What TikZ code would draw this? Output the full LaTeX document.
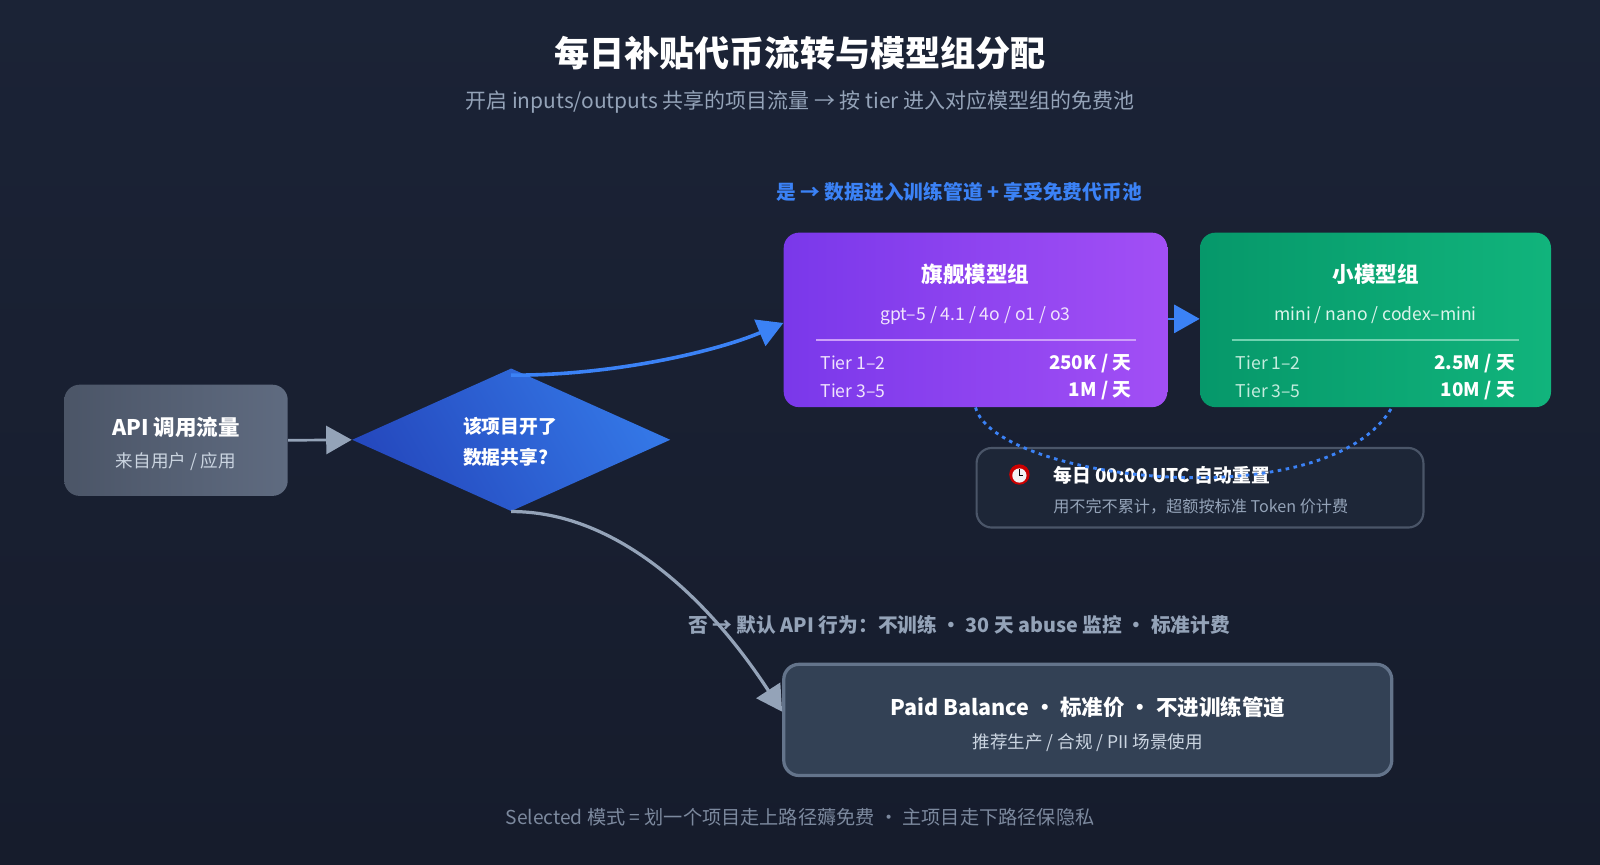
\documentclass[tikz,border=0pt]{standalone}
\usepackage{fontspec}
\setmainfont{Noto Sans CJK SC}
\usetikzlibrary{arrows.meta,shapes.geometric,positioning,calc}
\definecolor{bgtop}{HTML}{1B2336}
\definecolor{bgbot}{HTML}{161C2C}
\definecolor{slate}{HTML}{94A3B8}
\definecolor{mute}{HTML}{CBD5E1}
\definecolor{flow}{HTML}{3B82F6}
\definecolor{apiA}{HTML}{4B5567}
\definecolor{apiB}{HTML}{5F6B80}
\definecolor{decA}{HTML}{2549BE}
\definecolor{decB}{HTML}{3477E6}
\definecolor{purA}{HTML}{7A38EA}
\definecolor{purB}{HTML}{A24FF5}
\definecolor{grnA}{HTML}{06986A}
\definecolor{grnB}{HTML}{11B47C}
\definecolor{resetfill}{HTML}{1D2637}
\definecolor{resetline}{HTML}{4A5568}
\definecolor{paidfill}{HTML}{334155}
\definecolor{paidline}{HTML}{64748B}
\begin{document}
\begin{tikzpicture}[x=0.02cm,y=-0.02cm,
  box/.style={rounded corners=0.3cm,inner sep=0pt,align=center},
  head/.style={font=\bfseries\fontsize{12}{14}\selectfont,text=white},
  sub/.style={font=\fontsize{9.8}{12}\selectfont},
  num/.style={font=\bfseries\fontsize{10.5}{12}\selectfont,text=white,anchor=east},
  bigtip/.style={-{Triangle[length=0.5cm,width=0.55cm]}}]
\shade[top color=bgtop,bottom color=bgbot] (0,0) rectangle (1568,847);
\useasboundingbox (0,0) rectangle (1568,847);
% title
\node[font=\bfseries\fontsize{19.6}{22}\selectfont,text=white] (title) at (784,52) {每日补贴代币流转与模型组分配};
\node[font=\fontsize{11.7}{14}\selectfont,text=slate] (subtitle) at (784,100) {开启 inputs/outputs 共享的项目流量 → 按 tier 进入对应模型组的免费池};
% nodes
\node[box,left color=apiA,right color=apiB,minimum width=4.38cm,minimum height=2.18cm] (api) at (172.5,431.5) {};
\node[head] at (172.5,419) {API 调用流量};
\node[sub,text=mute] at (172.5,452) {来自用户 / 应用};
\node[diamond,inner sep=0pt,minimum width=6.24cm,minimum height=2.8cm,aspect=2.23,left color=decA,right color=decB,shading angle=120] (dec) at (501,431) {};
\node[font=\bfseries\fontsize{10.5}{13}\selectfont,text=white,align=left] at (500,433) {该项目开了\\[4pt]数据共享?};
\node[box,left color=purA,right color=purB,minimum width=7.52cm,minimum height=3.42cm] (pur) at (956,313.5) {};
\node[box,left color=grnA,right color=grnB,minimum width=6.88cm,minimum height=3.42cm] (grn) at (1348,313.5) {};
\node[box,fill=resetfill,draw=resetline,line width=1.2pt,minimum width=8.76cm,minimum height=1.56cm] (reset) at (1176,478) {};
\node[box,fill=paidfill,draw=paidline,line width=1.8pt,minimum width=11.92cm,minimum height=2.18cm] (paid) at (1066,705.5) {};
% purple text
\node[head] at (956,269) {旗舰模型组};
\node[sub,text=white!85!purB] at (956,309) {gpt–5 / 4.1 / 4o / o1 / o3};
\draw[white!45!purB,line width=0.8pt] (800,333) -- (1113,333);
\node[sub,text=white!85!purB,anchor=west] at (798,356) {Tier 1–2};
\node[sub,text=white!85!purB,anchor=west] at (798,383) {Tier 3–5};
\node[num] at (1115,356) {250K / 天};
\node[num] at (1115,383) {1M / 天};
% green text
\node[head] at (1348,269) {小模型组};
\node[sub,text=white!85!grnB] at (1348,309) {mini / nano / codex–mini};
\draw[white!40!grnB,line width=0.8pt] (1207,333) -- (1489,333);
\node[sub,text=white!75!grnB,anchor=west] at (1205,356) {Tier 1–2};
\node[sub,text=white!75!grnB,anchor=west] at (1205,383) {Tier 3–5};
\node[num] at (1491,356) {2.5M / 天};
\node[num] at (1491,383) {10M / 天};
% reset text
\fill[red!80!black] (999,465) circle (10);
\fill[white!90!gray] (999,466) circle (7);
\draw[black,line width=0.6pt] (999,460) -- (999,466) -- (1003,466);
\node[font=\bfseries\fontsize{10.5}{12}\selectfont,text=white,anchor=west] at (1026,466) {每日 00:00 UTC 自动重置};
\node[font=\fontsize{9}{10}\selectfont,text=slate,anchor=west] at (1026,496) {用不完不累计，超额按标准 Token 价计费};
% paid text
\node[head] at (1066,693) {Paid Balance · 标准价 · 不进训练管道};
\node[sub,text=mute] at (1066,728) {推荐生产 / 合规 / PII 场景使用};
% labels
\node[font=\bfseries\fontsize{11}{13}\selectfont,text=flow] (yes) at (940,188) {是 → 数据进入训练管道 + 享受免费代币池};
\node[font=\bfseries\fontsize{11}{13}\selectfont,text=slate] (no) at (940,612) {否 → 默认 API 行为：不训练 · 30 天 abuse 监控 · 标准计费};
\node[font=\fontsize{10.7}{12}\selectfont,text=slate!80!bgtop] (foot) at (784,801) {Selected 模式 = 划一个项目走上路径薅免费 · 主项目走下路径保隐私};
% connectors
\draw[slate,line width=1.5pt,bigtip] (api.east) -- (dec.west);
\draw[flow,line width=2pt,bigtip] (dec.north) ++(0,7) .. controls (600,368) and (700,345) .. ($(pur.west)+(0,3)$);
\draw[slate,line width=1.8pt,bigtip] (dec.south) .. controls (600,501) and (690,580) .. ($(paid.west)+(0,-8)$);
\draw[flow,line width=1.5pt,bigtip] (pur.east) ++(0,-1) -- ($(grn.west)+(0,-1)$);
\draw[flow,line width=1.6pt,dash pattern=on 2pt off 2.5pt] (pur.south) .. controls (975,470) and (1300,510) .. ($(grn.south)+(16,0)$);
\end{tikzpicture}
\end{document}
